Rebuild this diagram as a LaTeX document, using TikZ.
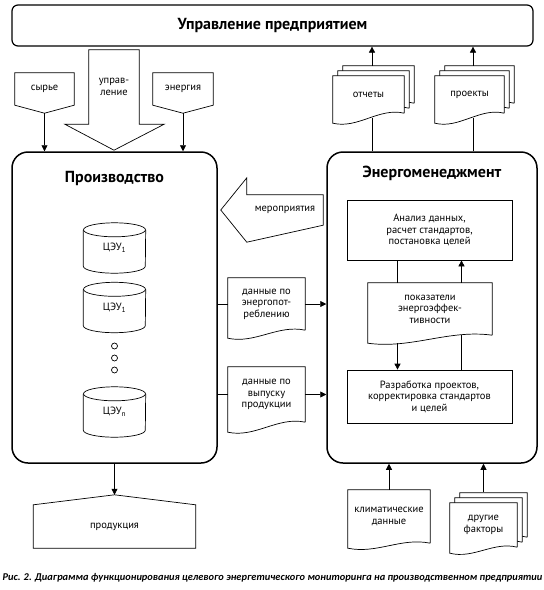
\documentclass[tikz,border=0pt]{standalone}
\usepackage{fontspec}
\setmainfont{PT Sans}
\newfontfamily\capfont{Carlito}
\usetikzlibrary{calc,arrows.meta,backgrounds}

% off-page connectors
\newcommand\pagedown[1]{%
  \draw[thinline] (#1.south west) -- (#1.north west) -- (#1.north east) -- (#1.south east) -- ($(#1.south)+(0,-8)$) -- cycle;}
\newcommand\pageup[1]{%
  \draw[thinline] (#1.north west) -- (#1.south west) -- (#1.south east) -- (#1.north east) -- ($(#1.north)+(0,10)$) -- cycle;}
% document with wavy bottom: node, dx, dy, drop of left corner
\newcommand\docat[4]{%
  \draw[thinline,fill=white] ($(#1.south east)+(#2,#3)$) -- ($(#1.north east)+(#2,#3)$)
    -- ($(#1.north west)+(#2,#3)$) -- ($(#1.south west)+(#2,#3-#4)$)
    .. controls ($(#1.south west)!0.35!(#1.south east)+(#2,#3-#4-6)$)
    and ($(#1.south west)!0.65!(#1.south east)+(#2,#3+6)$) .. ($(#1.south east)+(#2,#3)$);}
\newcommand\multidoc[2]{\docat{#1}{10}{10}{#2}\docat{#1}{5}{5}{#2}\docat{#1}{0}{0}{#2}}
% cylinder round a node
\newcommand\cyl[1]{%
  \draw[thinline] ($(#1.north west)+(0,-7)$) -- ($(#1.south west)+(0,7)$)
    arc[start angle=180,end angle=360,x radius=31,y radius=7] -- ($(#1.north east)+(0,-7)$);
  \draw[thinline] ($(#1.north)+(0,-7)$) ellipse[x radius=31,y radius=7];}

\begin{document}
\begin{tikzpicture}[x=1pt,y=1pt,
every node/.style={inner sep=0pt, align=center, font=\fontsize{10.5}{11.5}\selectfont},
thinline/.style={line width=0.7pt},
bigbox/.style={draw, line width=1.5pt, rounded corners=16pt},
title/.style={font=\bfseries\fontsize{16}{18}\selectfont},
arr/.style={line width=0.7pt, -{Triangle[length=6pt,width=6pt]}},
dot/.style={circle, draw, thinline, minimum size=6pt}
]
\useasboundingbox (0,0) rectangle (544,-590);

% frames
\node[draw, line width=1.2pt, rounded corners=6pt, minimum width=521pt, minimum height=41pt,
      font=\bfseries\fontsize{16}{18}\selectfont] (mgmt) at (272.5,-25.5) {Управление предприятием};
\node[bigbox, minimum width=205pt, minimum height=311pt] (prod) at (114.5,-307.5) {};
\node[bigbox, minimum width=210pt, minimum height=311pt] (energy) at (432,-307.5) {};
\node[title] (prodtitle) at (114.5,-178) {Производство};
\node[title] (entitle) at (432,-173) {Энергоменеджмент};

% inputs
\node[minimum width=59pt, minimum height=32pt] (raw) at (44.5,-89) {сырье};
\node[minimum width=60pt, minimum height=32pt] (enrg) at (183,-89) {энергия};
\node[minimum width=50pt, minimum height=74pt] (ctl) at (114,-87) {управ-\\ление};
\node[minimum width=71pt, minimum height=37pt] (rep) at (368.5,-94.5) {отчеты};
\node[minimum width=69pt, minimum height=37pt] (proj) at (469.5,-94.5) {проекты};

% production units
\foreach \n/\y/\s in {cu1/248/1, cu2/307.5/1, cun/412/n}
  \node[minimum width=62pt, minimum height=50pt] (\n) at (114.5,-\y) {ЦЭУ\textsubscript{\s}};
\foreach \i/\y in {1/346, 2/358, 3/370}
  \node[dot] (dot\i) at (114.5,-\y) {};
\node[minimum width=162pt, minimum height=43pt] (out) at (114.5,-526.5) {продукция};

% data flows
\node[minimum width=77pt, minimum height=52pt] (cons) at (266.5,-304) {данные по\\энергопот-\\реблению};
\node[minimum width=77pt, minimum height=55pt] (outp) at (266.5,-394.5) {данные по\\выпуску\\продукции};
\node[minimum width=76pt, minimum height=30pt] (evt) at (285,-210) {мероприятия};

% energy management
\node[draw, thinline, minimum width=165pt, minimum height=60pt] (an) at (429.5,-230) {Анализ данных,\\расчет стандартов,\\постановка целей};
\node[minimum width=124pt, minimum height=52pt] (ind) at (430,-309) {показатели\\энергоэффек-\\тивности};
\node[draw, thinline, minimum width=165pt, minimum height=53pt] (dev) at (429.5,-396.5) {Разработка проектов,\\корректировка стандартов\\и целей};
\node[minimum width=82pt, minimum height=53pt] (clim) at (389,-516.5) {климатические\\данные};
\node[minimum width=67pt, minimum height=44pt] (other) at (483.5,-525) {другие\\факторы};

\begin{scope}[on background layer]
\pagedown{raw} \pagedown{enrg} \pageup{out}
\multidoc{rep}{10} \multidoc{proj}{10} \multidoc{other}{6}
\docat{cons}{0}{0}{8} \docat{outp}{0}{0}{10}
\docat{ind}{0}{0}{8} \docat{clim}{0}{0}{5}
\foreach \n in {cu1,cu2,cun} {\cyl{\n}}
\end{scope}

% big arrows
\draw[thinline] (ctl.south west) -- (ctl.north west) -- (ctl.north east) -- (ctl.south east)
  -- ++(25,0) -- ($(ctl.south)+(0,-26)$) -- ($(ctl.south west)+(-24,0)$) -- cycle;
\draw[thinline] (evt.south east) -- (evt.north east) -- (evt.north west) -- ++(0,17)
  -- ($(prod.east |- evt.west)+(3,0)$) -- ($(evt.south west)+(0,-17)$) -- cycle;

% connectors
\draw[arr] ($(raw.south)+(0,-8)$) -- (raw.south |- prod.north);
\draw[arr] ($(enrg.south)+(0,-8)$) -- (enrg.south |- prod.north);
\foreach \d in {rep, proj} {
  \coordinate (\d top) at ($(\d.north)+(3.5,10)$);
  \draw[arr] (\d top) -- (\d top |- mgmt.south);
  \draw[thinline] ($(\d.south)+(3.5,-5)$) -- (\d top |- energy.north);
}
\draw[arr] (prod.south) -- ($(out.north)+(0,10)$);
\foreach \d in {cons, outp} {
  \draw[thinline] (prod.east |- \d.west) -- (\d.west);
  \draw[arr] (\d.east) -- (\d.east -| energy.west);
}
\coordinate (upl) at ($(an.south)+(-32,0)$);
\coordinate (upr) at ($(an.south)+(32,0)$);
\draw[thinline] (upl) -- (upl |- ind.north);
\draw[arr] ($(upl |- ind.south)+(0,-8)$) -- (upl |- dev.north);
\draw[thinline] (upr |- dev.north) -- (upr |- ind.south);
\draw[arr] (upr |- ind.north) -- (upr);
\draw[arr] (clim.north) -- (clim.north |- energy.south);
\coordinate (other top) at ($(other.north)+(0,11)$);
\draw[arr] (other top) -- (other top |- energy.south);

% caption
\node[font=\capfont\bfseries\itshape\fontsize{10.4}{12}\selectfont] (cap) at (272.5,-578)
  {Рис. 2. Диаграмма функционирования целевого энергетического мониторинга на производственном предприятии};
\end{tikzpicture}
\end{document}
